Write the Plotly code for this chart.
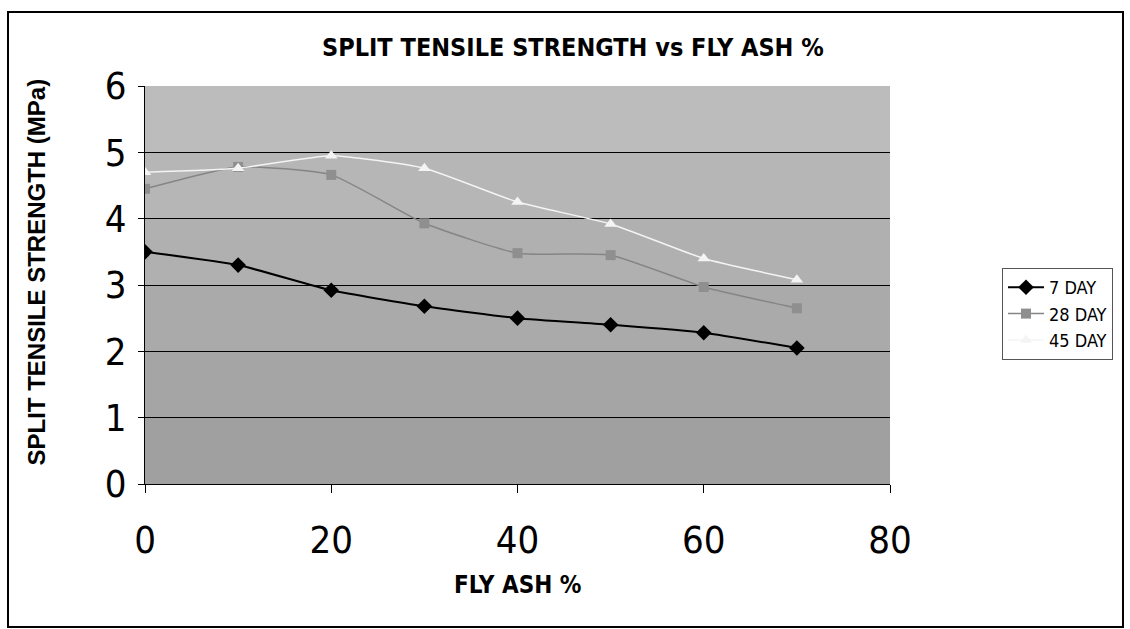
import plotly.graph_objects as go

fly_ash = [0, 10, 20, 30, 40, 50, 60, 70]
day7 = [3.50, 3.30, 2.92, 2.68, 2.50, 2.40, 2.28, 2.05]
day28 = [4.45, 4.78, 4.66, 3.93, 3.48, 3.45, 2.97, 2.65]
day45 = [4.70, 4.76, 4.95, 4.76, 4.25, 3.92, 3.40, 3.08]
x_ticks = [0, 20, 40, 60, 80]
y_ticks = [0, 1, 2, 3, 4, 5, 6]

W, H = 1130, 629
L, R, T, B = 145, 890, 86, 484


def px(x):
    return (x - L) / (R - L)


def py(y):
    return (B - y) / (B - T)


fig = go.Figure()
fig.add_trace(go.Scatter(x=fly_ash, y=day7, name="7 DAY", mode="lines+markers",
                         line=dict(color="black", width=2, shape="spline", smoothing=0.5),
                         marker=dict(symbol="diamond", size=12, color="black")))
fig.add_trace(go.Scatter(x=fly_ash, y=day28, name="28 DAY", mode="lines+markers",
                         line=dict(color="#858585", width=1.5, shape="spline", smoothing=0.5),
                         marker=dict(symbol="square", size=10, color="#8f8f8f")))
fig.add_trace(go.Scatter(x=fly_ash, y=day45, name="45 DAY", mode="lines+markers",
                         line=dict(color="#f4f4f4", width=1.5, shape="spline", smoothing=0.5),
                         marker=dict(symbol="triangle-up", size=11, color="#f4f4f4")))

narrow = "Liberation Sans Narrow, Arial Narrow, DejaVu Sans Condensed, sans-serif"
tickfont = dict(family=narrow, size=38, color="black")

# subtle vertical shading of the plot background (lighter at top, darker at bottom)
band_cols = ["#bcbcbc", "#b6b6b6", "#b0b0b0", "#aaaaaa", "#a5a5a5", "#a0a0a0"]
shapes = []
n = len(band_cols)
for i, c in enumerate(band_cols):
    shapes.append(dict(type="rect", xref="paper", yref="paper", x0=0, x1=1,
                       y0=1 - (i + 1) / n, y1=1 - i / n, line=dict(width=0),
                       fillcolor=c, layer="below"))
shapes.append(dict(type="rect", xref="paper", yref="paper", x0=px(8), x1=px(1123),
                   y0=py(627), y1=py(12), line=dict(color="black", width=2),
                   fillcolor="rgba(0,0,0,0)", layer="below"))

fig.update_layout(
    width=W, height=H,
    margin=dict(l=L, r=W - R, t=T, b=H - B, pad=0),
    paper_bgcolor="white",
    plot_bgcolor="#b0b0b0",
    showlegend=True,
    legend=dict(x=px(1002), y=py(268), xanchor="left", yanchor="top",
                bgcolor="white", bordercolor="#555555", borderwidth=1,
                font=dict(family=narrow, size=18, color="black"),
                tracegroupgap=4, itemwidth=36),
    xaxis=dict(range=[0, 80], tickvals=x_ticks, ticks="outside", ticklen=8, tickcolor="black",
               showline=True, linecolor="black", linewidth=1, showgrid=False, zeroline=False,
               tickfont=tickfont, ticklabelstandoff=14),
    yaxis=dict(range=[0, 6], tickvals=y_ticks, ticks="outside", ticklen=6, tickcolor="black",
               showline=True, linecolor="black", linewidth=1, showgrid=True, gridcolor="black",
               gridwidth=1, zeroline=False, tickfont=tickfont, ticklabelstandoff=4),
    annotations=[
        dict(text="<b>SPLIT TENSILE STRENGTH vs FLY ASH %</b>", x=px(573), y=py(48),
             xref="paper", yref="paper", xanchor="center", yanchor="middle", showarrow=False,
             font=dict(family=narrow, size=25, color="black")),
        dict(text="<b>FLY ASH %</b>", x=0.5, y=py(585),
             xref="paper", yref="paper", xanchor="center", yanchor="middle", showarrow=False,
             font=dict(family=narrow, size=24, color="black")),
        dict(text="<b>SPLIT TENSILE STRENGTH (MPa)</b>", x=px(36), y=py(468), textangle=-90,
             xref="paper", yref="paper", xanchor="center", yanchor="bottom", showarrow=False,
             font=dict(family="Liberation Sans, Arial, sans-serif", size=24, color="black")),
    ],
    shapes=shapes,
)

fig.write_html("out.html")
